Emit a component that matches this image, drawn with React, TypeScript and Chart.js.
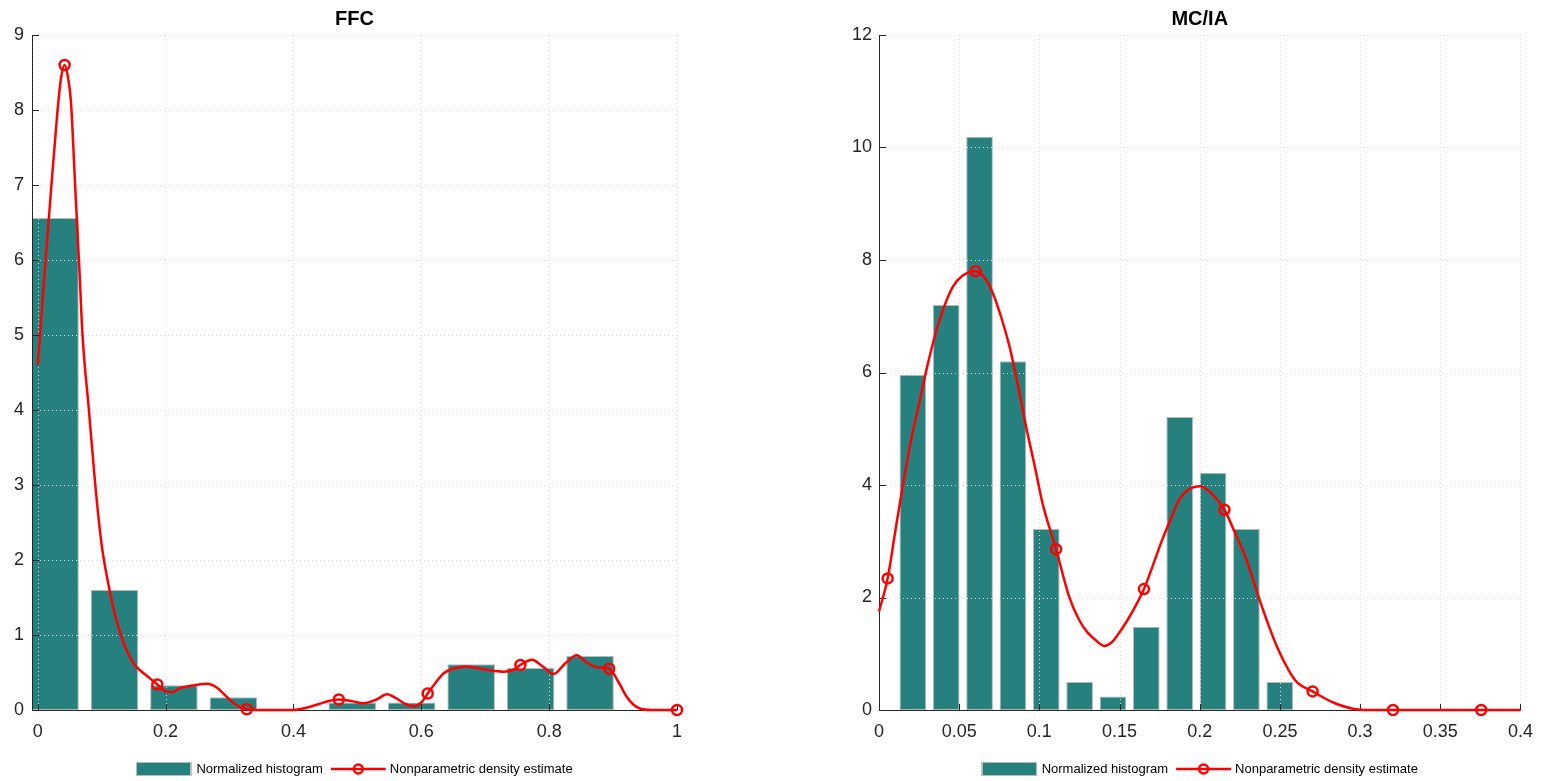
import React, { useEffect, useRef } from "react";
import { Chart, registerables } from "chart.js";

Chart.register(...registerables);

// ---------------- Data: FFC ----------------
const ffcBinCenters = [0.027, 0.12, 0.213, 0.306, 0.399, 0.492, 0.585, 0.678, 0.771, 0.864, 0.957];
const ffcHist = [6.56, 1.6, 0.33, 0.17, 0, 0.1, 0.1, 0.61, 0.56, 0.72, 0];
const ffcCurveX = [
  0.0, 0.01, 0.02, 0.03, 0.036, 0.042, 0.048, 0.052, 0.059, 0.065, 0.07, 0.08, 0.09, 0.1, 0.11, 0.12,
  0.13, 0.14, 0.15, 0.16, 0.17, 0.187, 0.2, 0.21, 0.225, 0.245, 0.265, 0.28, 0.295, 0.31, 0.327, 0.345,
  0.4, 0.42, 0.44, 0.455, 0.471, 0.49, 0.51, 0.53, 0.546, 0.56, 0.575, 0.588, 0.6, 0.61, 0.622, 0.635,
  0.65, 0.671, 0.7, 0.729, 0.745, 0.755, 0.773, 0.79, 0.807, 0.825, 0.843, 0.858, 0.875, 0.894, 0.91,
  0.921, 0.932, 0.942, 0.96, 1.0,
];
const ffcCurveY = [
  4.6, 5.75, 6.85, 7.9, 8.4, 8.6, 8.4, 8.1, 6.9, 5.9, 5.0, 4.0, 3.0, 2.2, 1.7, 1.3,
  1.0, 0.78, 0.62, 0.53, 0.46, 0.34, 0.25, 0.24, 0.3, 0.33, 0.35, 0.3, 0.18, 0.07, 0.01, 0.0,
  0.0, 0.03, 0.08, 0.12, 0.14, 0.12, 0.09, 0.14, 0.21, 0.16, 0.08, 0.05, 0.1, 0.22, 0.36, 0.49,
  0.55, 0.58, 0.54, 0.51, 0.54, 0.6, 0.67, 0.58, 0.48, 0.62, 0.73, 0.64, 0.57, 0.55, 0.35,
  0.18, 0.07, 0.02, 0.0, 0.0,
];
const ffcMarkerX = [0.042, 0.187, 0.327, 0.471, 0.61, 0.755, 0.894, 1.0];
const ffcXTicks = [0, 0.2, 0.4, 0.6, 0.8, 1];
const ffcYTicks = [0, 1, 2, 3, 4, 5, 6, 7, 8, 9];

// ---------------- Data: MC/IA ----------------
const mciaBinCenters = [0.0211, 0.0419, 0.0627, 0.0835, 0.1043, 0.1251, 0.1459, 0.1667, 0.1875, 0.2083, 0.2291, 0.2499];
const mciaHist = [5.96, 7.2, 10.19, 6.2, 3.22, 0.5, 0.24, 1.48, 5.21, 4.22, 3.22, 0.5];
const mciaCurveX = [
  0.0, 0.0054, 0.01, 0.0151, 0.02, 0.0255, 0.03, 0.0359, 0.041, 0.0462, 0.052, 0.0603, 0.066, 0.071,
  0.076, 0.0814, 0.0866, 0.0917, 0.097, 0.102, 0.1104, 0.1186, 0.1248, 0.13, 0.1352, 0.1404, 0.145,
  0.1497, 0.155, 0.16, 0.1652, 0.1705, 0.1765, 0.182, 0.187, 0.193, 0.2004, 0.207, 0.2154, 0.222,
  0.2284, 0.2367, 0.243, 0.249, 0.2595, 0.2704, 0.2843, 0.2988, 0.31, 0.3205, 0.3755, 0.4,
];
const mciaCurveY = [
  1.75, 2.34, 3.15, 4.03, 4.8, 5.51, 6.1, 6.76, 7.2, 7.53, 7.72, 7.8, 7.68, 7.41,
  7.0, 6.46, 5.78, 5.04, 4.35, 3.67, 2.86, 2.01, 1.6, 1.38, 1.24, 1.14, 1.2,
  1.37, 1.6, 1.85, 2.15, 2.55, 3.02, 3.4, 3.73, 3.92, 3.98, 3.86, 3.56, 3.15,
  2.73, 2.01, 1.5, 1.07, 0.53, 0.33, 0.12, 0.01, 0.0, 0.0, 0.0, 0.0,
];
const mciaMarkerX = [0.0054, 0.0603, 0.1104, 0.1652, 0.2154, 0.2704, 0.3205, 0.3755];
const mciaXTicks = [0, 0.05, 0.1, 0.15, 0.2, 0.25, 0.3, 0.35, 0.4];
const mciaYTicks = [0, 2, 4, 6, 8, 10, 12];

const histLabel = "Normalized histogram";
const densityLabel = "Nonparametric density estimate";

// ---------------- Styles ----------------
const FONT = '"Liberation Sans", Arial, Helvetica, sans-serif';
const BAR_FILL = "rgb(38,128,126)";
const BAR_EDGE = "rgb(185,185,185)";
const RED = "#ff0000";
const AXIS = "#262626";
const GRID = "#dcdcdc";

type PanelCfg = {
  title: string;
  binCenters: number[];
  hist: number[];
  curveX: number[];
  curveY: number[];
  markerX: number[];
  xTicks: number[];
  yTicks: number[];
  xMin: number;
  xMax: number;
  yMax: number;
  yAxisWidth: number;
  padRight: number;
  yLabelPad: number;
};

const matlabPlugin = (title: string) => ({
  id: "matlabLook",
  beforeDatasetDraw(chart: any, args: any) {
    if (args.index !== 1) return;
    const ctx = chart.ctx;
    const a = chart.chartArea;
    const xs = chart.scales.x;
    const ys = chart.scales.y;
    ctx.save();
    // dotted grid
    ctx.strokeStyle = GRID;
    ctx.lineWidth = 1;
    ctx.setLineDash([1, 3]);
    xs.ticks.forEach((t: any) => {
      const px = Math.round(xs.getPixelForValue(t.value)) + 0.5;
      ctx.beginPath();
      ctx.moveTo(px, a.top);
      ctx.lineTo(px, a.bottom);
      ctx.stroke();
    });
    ys.ticks.forEach((t: any) => {
      const py = Math.round(ys.getPixelForValue(t.value)) + 0.5;
      ctx.beginPath();
      ctx.moveTo(a.left, py);
      ctx.lineTo(a.right, py);
      ctx.stroke();
    });
    ctx.setLineDash([]);
    // axes
    ctx.strokeStyle = AXIS;
    ctx.lineWidth = 1;
    const L = Math.round(a.left) + 0.5;
    const B = Math.round(a.bottom) + 0.5;
    ctx.beginPath();
    ctx.moveTo(L, a.top);
    ctx.lineTo(L, B);
    ctx.lineTo(a.right, B);
    ctx.stroke();
    // inward tick marks
    const tl = 6.5;
    xs.ticks.forEach((t: any) => {
      const px = Math.round(xs.getPixelForValue(t.value)) + 0.5;
      ctx.beginPath();
      ctx.moveTo(px, B);
      ctx.lineTo(px, B - tl);
      ctx.stroke();
    });
    ys.ticks.forEach((t: any) => {
      const py = Math.round(ys.getPixelForValue(t.value)) + 0.5;
      ctx.beginPath();
      ctx.moveTo(L, py);
      ctx.lineTo(L + tl, py);
      ctx.stroke();
    });
    ctx.restore();
  },
  afterDraw(chart: any) {
    const ctx = chart.ctx;
    const a = chart.chartArea;
    const cx = (a.left + a.right) / 2;
    ctx.save();
    // title
    ctx.fillStyle = "#000";
    ctx.font = `bold 20px ${FONT}`;
    ctx.textAlign = "center";
    ctx.textBaseline = "middle";
    ctx.fillText(title, cx, 19.5);
    // legend
    const ds = chart.data.datasets;
    const t1 = ds[0].label;
    const t2 = ds[1].label;
    ctx.font = `13px ${FONT}`;
    const w1 = ctx.measureText(t1).width;
    const w2 = ctx.measureText(t2).width;
    const total = 55 + 5 + w1 + 8 + 55 + 4 + w2;
    let x = cx - total / 2;
    const y = 769;
    ctx.fillStyle = BAR_FILL;
    ctx.fillRect(x, y - 7, 55, 14);
    ctx.strokeStyle = BAR_EDGE;
    ctx.lineWidth = 1;
    ctx.strokeRect(Math.round(x) + 0.5, y - 6.5, 54, 13);
    x += 60;
    ctx.fillStyle = "#000";
    ctx.textAlign = "left";
    ctx.fillText(t1, x, y + 0.5);
    x += w1 + 8;
    ctx.strokeStyle = RED;
    ctx.lineWidth = 2.5;
    ctx.beginPath();
    ctx.moveTo(x, y);
    ctx.lineTo(x + 55, y);
    ctx.stroke();
    ctx.beginPath();
    ctx.arc(x + 27.5, y, 4.5, 0, Math.PI * 2);
    ctx.stroke();
    x += 59;
    ctx.fillText(t2, x, y + 0.5);
    ctx.restore();
  },
});

function Panel({ cfg, left }: { cfg: PanelCfg; left: number }) {
  const ref = useRef<HTMLCanvasElement | null>(null);
  useEffect(() => {
    if (!ref.current) return;
    const barData = cfg.binCenters.map((x, i) => ({ x, y: cfg.hist[i] }));
    const lineData = cfg.curveX.map((x, i) => ({ x, y: cfg.curveY[i] }));
    const radii = cfg.curveX.map((x) => (cfg.markerX.includes(x) ? 5 : 0));
    const chart = new Chart(ref.current, {
      type: "bar",
      data: {
        datasets: [
          {
            type: "bar",
            label: histLabel,
            data: barData,
            backgroundColor: BAR_FILL,
            borderColor: BAR_EDGE,
            borderWidth: 1,
            borderSkipped: false,
            barPercentage: 0.8,
            categoryPercentage: 1.0,
            order: 1,
          } as any,
          {
            type: "line",
            label: densityLabel,
            data: lineData,
            borderColor: RED,
            borderWidth: 2.5,
            cubicInterpolationMode: "monotone",
            pointRadius: radii,
            pointHoverRadius: radii,
            pointBorderWidth: 2.5,
            pointBorderColor: RED,
            pointBackgroundColor: "rgba(0,0,0,0)",
            clip: false,
            order: 0,
          } as any,
        ],
      },
      options: {
        responsive: false,
        animation: false,
        devicePixelRatio: 1,
        events: [],
        layout: { padding: { left: 0, top: 35, right: cfg.padRight, bottom: 0 } },
        plugins: {
          legend: { display: false },
          title: { display: false },
          tooltip: { enabled: false },
        },
        scales: {
          x: {
            type: "linear",
            min: cfg.xMin,
            max: cfg.xMax,
            offset: false,
            grid: { display: false, drawTicks: false, offset: false },
            border: { display: false },
            afterBuildTicks: (s: any) => {
              s.ticks = cfg.xTicks.map((v) => ({ value: v }));
            },
            afterFit: (s: any) => {
              s.height = 71;
            },
            ticks: {
              color: AXIS,
              font: { family: FONT, size: 18 },
              padding: 11,
              maxRotation: 0,
              autoSkip: false,
              callback: (v: any) => String(v),
            },
          },
          y: {
            type: "linear",
            min: 0,
            max: cfg.yMax,
            grid: { display: false, drawTicks: false },
            border: { display: false },
            afterBuildTicks: (s: any) => {
              s.ticks = cfg.yTicks.map((v) => ({ value: v }));
            },
            afterFit: (s: any) => {
              s.width = cfg.yAxisWidth;
            },
            ticks: {
              color: AXIS,
              font: { family: FONT, size: 18 },
              padding: cfg.yLabelPad,
              autoSkip: false,
              callback: (v: any) => String(v),
            },
          },
        },
      } as any,
      plugins: [matlabPlugin(cfg.title) as any],
    });
    return () => chart.destroy();
  }, [cfg]);
  return (
    <canvas
      ref={ref}
      width={772}
      height={781}
      style={{ position: "absolute", left, top: 0, width: 772, height: 781 }}
    />
  );
}

const ffcCfg: PanelCfg = {
  title: "FFC",
  binCenters: ffcBinCenters,
  hist: ffcHist,
  curveX: ffcCurveX,
  curveY: ffcCurveY,
  markerX: ffcMarkerX,
  xTicks: ffcXTicks,
  yTicks: ffcYTicks,
  xMin: -0.009,
  xMax: 1,
  yMax: 9,
  yAxisWidth: 32,
  padRight: 95,
  yLabelPad: 8,
};

const mciaCfg: PanelCfg = {
  title: "MC/IA",
  binCenters: mciaBinCenters,
  hist: mciaHist,
  curveX: mciaCurveX,
  curveY: mciaCurveY,
  markerX: mciaMarkerX,
  xTicks: mciaXTicks,
  yTicks: mciaYTicks,
  xMin: 0,
  xMax: 0.4,
  yMax: 12,
  yAxisWidth: 107,
  padRight: 21,
  yLabelPad: 7,
};

export default function App() {
  return (
    <div
      style={{
        position: "fixed",
        left: 0,
        top: 0,
        width: 1544,
        height: 781,
        background: "#ffffff",
        overflow: "hidden",
      }}
    >
      <Panel cfg={ffcCfg} left={0} />
      <Panel cfg={mciaCfg} left={772} />
    </div>
  );
}
